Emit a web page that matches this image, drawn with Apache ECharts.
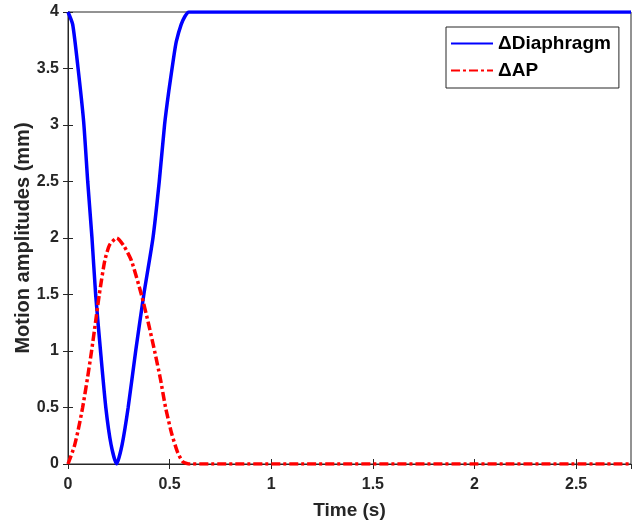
<!DOCTYPE html>
<html><head><meta charset="utf-8">
<script src="https://cdn.jsdelivr.net/npm/echarts@6/dist/echarts.min.js"></script>
<style>html,body{margin:0;padding:0;background:#fff}#c{width:632px;height:521px}</style>
</head><body><div id="c"></div>
<script>
var seriesNames = ['\u0394Diaphragm', '\u0394AP'];
var diaphragm = [[0,4],[0.023,3.89],[0.049,3.51],[0.077,3.03],[0.097,2.5],[0.118,2.0],[0.136,1.5],[0.160,1.0],[0.186,0.5],[0.212,0.17],[0.239,0],[0.266,0.17],[0.296,0.5],[0.333,1.0],[0.373,1.5],[0.418,2.0],[0.449,2.5],[0.475,3.0],[0.496,3.3],[0.520,3.6],[0.533,3.74],[0.557,3.89],[0.575,3.96],[0.595,4],[2.77,4]];
var ap = [[0,0],[0.03,0.15],[0.05,0.3],[0.072,0.5],[0.095,0.75],[0.116,1.0],[0.135,1.25],[0.154,1.5],[0.181,1.8],[0.205,1.94],[0.24,2.0],[0.275,1.93],[0.312,1.8],[0.361,1.5],[0.395,1.25],[0.426,1.0],[0.455,0.75],[0.48,0.5],[0.51,0.27],[0.54,0.1],[0.565,0.02],[0.595,0],[2.77,0]];
var xTicks = [0, 0.5, 1, 1.5, 2, 2.5];
var yTicks = [0, 0.5, 1, 1.5, 2, 2.5, 3, 3.5, 4];

var font = 'Liberation Sans, Arial, sans-serif';
var axCol = '#262626';
var chart = echarts.init(document.getElementById('c'));
function fmt(v){ return String(v); }
var hidden = {color: 'rgba(0,0,0,0)', borderWidth: 0, opacity: 0};
chart.setOption({
  animation: false,
  grid: {left: 68, top: 12, right: 1, bottom: 57, show: true, borderColor: axCol, borderWidth: 1, outerBoundsMode: 'none', containLabel: false},
  legend: {
    orient: 'vertical', left: 446, top: 27,
    backgroundColor: '#fff', borderColor: axCol, borderWidth: 1,
    padding: [7, 8, 8, 4], itemGap: 8, itemWidth: 42, itemHeight: 20,
    textStyle: {fontFamily: font, fontWeight: 'bold', fontSize: 19, color: '#000'},
    itemStyle: hidden,
    data: seriesNames
  },
  xAxis: [{
    type: 'value', min: 0, max: 2.77, interval: 0.5,
    axisLine: {show: true, lineStyle: {color: axCol}},
    axisTick: {show: true, inside: true, length: 5, lineStyle: {color: axCol}},
    splitLine: {show: false},
    axisLabel: {fontFamily: font, fontWeight: 'bold', fontSize: 16, color: axCol, margin: 13, formatter: fmt, showMaxLabel: false},
    name: 'Time (s)', nameLocation: 'middle', nameGap: 37, nameMoveOverlap: false,
    nameTextStyle: {fontFamily: font, fontWeight: 'bold', fontSize: 19, color: axCol}
  }, {
    type: 'value', position: 'top', min: 0, max: 2.77, interval: 0.5,
    axisLine: {show: true, lineStyle: {color: axCol}},
    axisTick: {show: true, inside: true, length: 5, lineStyle: {color: axCol}},
    axisLabel: {show: false}, splitLine: {show: false}
  }],
  yAxis: [{
    type: 'value', min: 0, max: 4, interval: 0.5,
    axisLine: {show: true, lineStyle: {color: axCol}},
    axisTick: {show: true, inside: true, length: 5, lineStyle: {color: axCol}},
    splitLine: {show: false},
    axisLabel: {fontFamily: font, fontWeight: 'bold', fontSize: 16, color: axCol, margin: 9, formatter: fmt},
    name: 'Motion amplitudes (mm)', nameLocation: 'middle', nameGap: 35, nameRotate: 90, nameMoveOverlap: false,
    nameTextStyle: {fontFamily: font, fontWeight: 'bold', fontSize: 20, color: axCol}
  }, {
    type: 'value', position: 'right', min: 0, max: 4, interval: 0.5,
    axisLine: {show: true, lineStyle: {color: axCol}},
    axisTick: {show: true, inside: true, length: 5, lineStyle: {color: axCol}},
    axisLabel: {show: false}, splitLine: {show: false}
  }],
  series: [{
    name: seriesNames[0], type: 'line', data: diaphragm, smooth: 0.2, symbol: 'none',
    lineStyle: {color: '#0000ff', width: 3.5}, itemStyle: {color: '#0000ff'}, z: 3
  }, {
    name: seriesNames[1], type: 'line', data: ap, smooth: 0.2, symbol: 'none',
    lineStyle: {color: '#ff0000', width: 3.5, type: [9, 3, 3, 3]}, itemStyle: {color: '#ff0000'}, z: 4
  }]
});
</script></body></html>
